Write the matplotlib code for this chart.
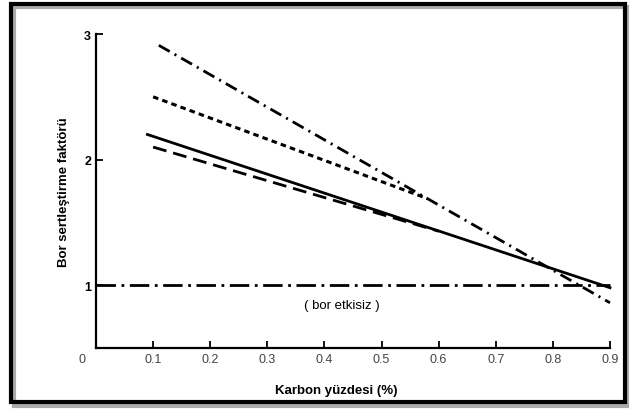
import matplotlib.pyplot as plt
from matplotlib.patches import Rectangle

# values
x_ticks = [0.1, 0.2, 0.3, 0.4, 0.5, 0.6, 0.7, 0.8, 0.9]
x_tick_labels = ["0.1", "0.2", "0.3", "0.4", "0.5", "0.6", "0.7", "0.8", "0.9"]
y_ticks = [1, 2, 3]
y_tick_labels = ["1", "2", "3"]

x_dashdot = [0.11, 0.9]
y_dashdot = [2.91, 0.86]
x_short = [0.1, 0.58]
y_short = [2.50, 1.69]
x_solid = [0.09, 0.9]
y_solid = [2.20, 0.98]
x_long = [0.1, 0.6]
y_long = [2.10, 1.43]
x_ref = [0.0, 0.9]
y_ref = [1.0, 1.0]

plt.rcParams['font.family'] = ['Liberation Sans Narrow', 'Liberation Sans', 'DejaVu Sans']
plt.rcParams['lines.scale_dashes'] = False

fig = plt.figure(figsize=(6.35, 4.10), dpi=100)
ax = fig.add_axes([0.1512, 0.1488, 0.8094, 0.7658])

# outer frame with a soft grey shadow, like the scanned figure
fig.patches.append(Rectangle((0.022, 0.008), 0.966, 0.972, transform=fig.transFigure,
                             fill=False, lw=3, ec='#aaaaaa'))
fig.patches.append(Rectangle((0.018, 0.017), 0.966, 0.972, transform=fig.transFigure,
                             fill=False, lw=3, ec='black'))

ax.plot(x_dashdot, y_dashdot, color='black', lw=2.0, dashes=(9, 4, 1.5, 4), clip_on=False)
ax.plot(x_short, y_short, color='black', lw=2.2, dashes=(4, 3), clip_on=False)
ax.plot(x_solid, y_solid, color='black', lw=2.0, clip_on=False)
ax.plot(x_long, y_long, color='black', lw=2.0, dashes=(10, 5), clip_on=False)
ax.plot(x_ref, y_ref, color='black', lw=2.0, dashes=(14, 4, 2, 4), clip_on=False)

ax.text(0.43, 0.84, "( bor etkisiz )", ha='center', va='center', fontsize=9.5)

ax.set_xlim(0, 0.9)
ax.set_ylim(0.5, 3)
ax.set_xticks(x_ticks)
ax.set_xticklabels(x_tick_labels, fontsize=9, color='#444444')
ax.set_yticks(y_ticks)
ax.set_yticklabels(y_tick_labels, fontsize=9, fontweight='bold')
ax.tick_params(direction='in', length=5, width=1.3)
ax.text(-0.024, 0.41, "0", ha='center', va='center', fontsize=9, color='#444444')

ax.spines['top'].set_visible(False)
ax.spines['right'].set_visible(False)
ax.spines['left'].set_linewidth(1.6)
ax.spines['bottom'].set_linewidth(1.6)

ax.set_xlabel("Karbon yüzdesi (%)", fontsize=9.5, fontweight='bold')
ax.xaxis.set_label_coords(0.467, -0.115)
ax.set_ylabel("Bor sertleştirme faktörü", fontsize=9.5, fontweight='bold', labelpad=10)

fig.savefig("out.png", dpi=100)
